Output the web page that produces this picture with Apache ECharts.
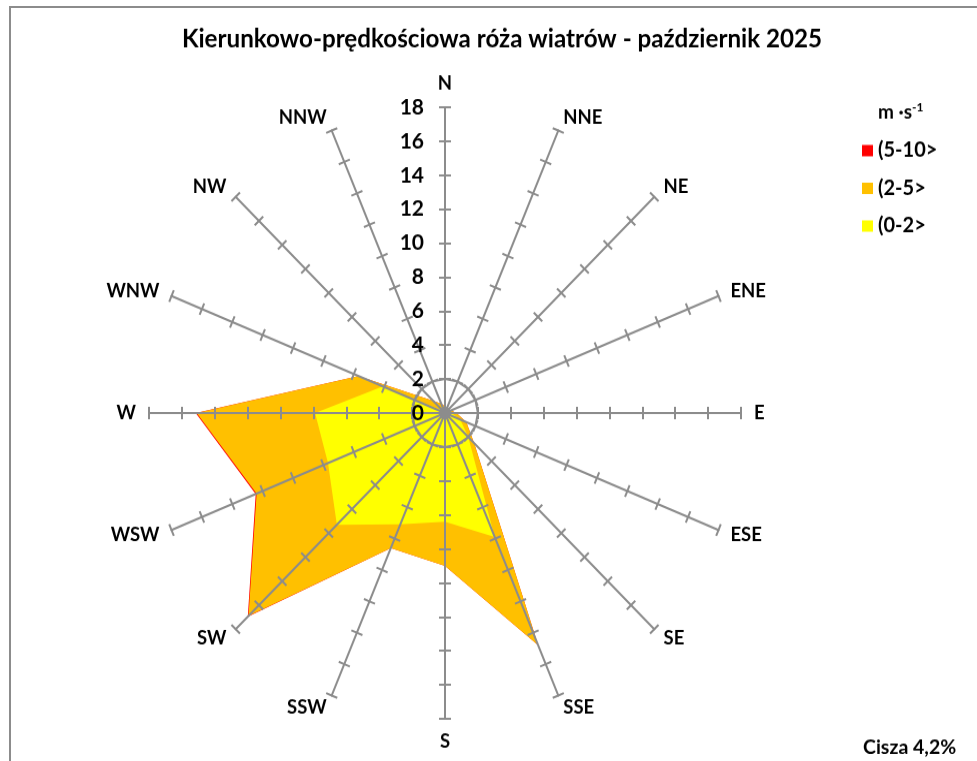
<!DOCTYPE html>
<html>
<head>
<meta charset="utf-8">
<script src="https://cdn.jsdelivr.net/npm/echarts@6/dist/echarts.min.js"></script>
<style>
  html, body { margin: 0; padding: 0; background: #fff; overflow: hidden; }
  #frame { position: absolute; left: 9px; top: 6px; width: 1000px; height: 800px; border: 2px solid #8c8c8c; box-sizing: border-box; }
  #chart { position: absolute; left: 0; top: 0; width: 977px; height: 761px; transform-origin: 0 413px; transform: scaleY(1.033); }
</style>
</head>
<body>
<div id="frame"></div>
<div id="chart"></div>
<script>
// Wind directions (clockwise from N)
const directions = ['N', 'NNE', 'NE', 'ENE', 'E', 'ESE', 'SE', 'SSE', 'S', 'SSW', 'SW', 'WSW', 'W', 'WNW', 'NW', 'NNW'];
// Speed classes (legend labels)
const classNames = ['(5-10>', '(2-5>', '(0-2>'];
// Cumulative frequency [%] per direction (same order as directions), as plotted
const cum0to2  = [0.1, 0.1, 0.1, 0.2, 0.4, 1.0, 2.0, 7.9, 6.4, 7.1, 9.3, 7.7, 7.9, 4.1, 0.2, 0.1];
const cum2to5  = [0.4, 0.3, 0.3, 0.4, 0.7, 1.4, 2.5, 14.8, 9.0, 8.6, 16.9, 12.4, 15.1, 5.7, 1.0, 0.6];
const cum5to10 = [0.4, 0.3, 0.3, 0.4, 0.7, 1.4, 2.5, 14.8, 9.0, 8.6, 16.96, 12.46, 15.16, 5.7, 1.0, 0.6];
const classColors = ['#FF0000', '#FFC000', '#FFFF00'];
const axisMax = 18, axisStep = 2;
const calmText = 'Cisza 4,2%';
const unitText = 'm ·s{sup|-1}';
const titleText = 'Kierunkowo-prędkościowa róża wiatrów - październik 2025';

const FONT = 'Lato';
// ECharts radar runs counter-clockwise: reorder so directions appear clockwise
const order = [0];
for (let i = directions.length - 1; i >= 1; i--) order.push(i);
const reorder = arr => order.map(i => arr[i]);

const indicators = order.map((i, k) => {
  const o = { name: directions[i], max: axisMax, min: 0 };
  if (k === 0) o.axisLabel = { show: true };
  return o;
});
const indicators2 = order.map(i => ({ name: directions[i], max: axisMax, min: 0 }));
const ringColors = [];
for (let i = 0; i <= axisMax / axisStep; i++) ringColors.push(i === 1 ? '#8c8c8c' : 'rgba(0,0,0,0)');

const center = [445, 413];
const radius = 296;
const axisLineStyle = { color: '#8c8c8c', width: 2 };

const chart = echarts.init(document.getElementById('chart'), null, { renderer: 'canvas' });
chart.setOption({
  animation: false,
  backgroundColor: 'transparent',
  title: [
    { text: titleText, left: 497, top: 34, textAlign: 'center',
      textStyle: { fontFamily: FONT, fontWeight: 'bold', fontSize: 24.2, color: '#000' } },
    { text: unitText, left: 873, top: 106,
      textStyle: { fontFamily: FONT, fontWeight: 'bold', fontSize: 19, color: '#000',
        rich: { sup: { fontFamily: FONT, fontWeight: 'bold', fontSize: 12, verticalAlign: 'top', padding: [0, 0, 9, 0], color: '#000' } } } },
    { text: calmText, left: 858, top: 722,
      textStyle: { fontFamily: FONT, fontWeight: 'bold', fontSize: 19.5, color: '#000' } }
  ],
  legend: {
    data: classNames,
    orient: 'vertical',
    left: 857, top: 144,
    itemWidth: 11, itemHeight: 11, itemGap: 16.5,
    icon: 'rect',
    textStyle: { fontFamily: FONT, fontWeight: 'bold', fontSize: 20, color: '#000' }
  },
  radar: [
    {
      z: 3,
      center: center, radius: radius, startAngle: 90, shape: 'polygon',
      splitNumber: axisMax / axisStep,
      indicator: indicators,
      axisName: { fontFamily: FONT, fontWeight: 'bold', fontSize: 18.5, color: '#000' },
      nameGap: 13,
      axisLine: { show: true, lineStyle: axisLineStyle },
      axisTick: { show: true, length: 6, lineStyle: axisLineStyle },
      axisLabel: { show: false, fontFamily: FONT, fontWeight: 'bold', fontSize: 21, color: '#000', margin: 21 },
      splitLine: { show: true, lineStyle: { color: ringColors, width: 2 } },
      splitArea: { show: false }
    },
    {
      z: 3,
      center: center, radius: radius, startAngle: 90, shape: 'polygon',
      splitNumber: axisMax / axisStep,
      indicator: indicators2,
      axisName: { show: false },
      axisLine: { show: false },
      axisTick: { show: true, length: -6, lineStyle: axisLineStyle },
      axisLabel: { show: false },
      splitLine: { show: false },
      splitArea: { show: false }
    }
  ],
  series: [{
    type: 'radar',
    radarIndex: 0,
    z: 2,
    symbol: 'none',
    data: [
      { name: classNames[0], value: reorder(cum5to10), itemStyle: { color: classColors[0] }, lineStyle: { width: 0 }, areaStyle: { color: classColors[0], opacity: 1 } },
      { name: classNames[1], value: reorder(cum2to5),  itemStyle: { color: classColors[1] }, lineStyle: { width: 0 }, areaStyle: { color: classColors[1], opacity: 1 } },
      { name: classNames[2], value: reorder(cum0to2),  itemStyle: { color: classColors[2] }, lineStyle: { width: 0 }, areaStyle: { color: classColors[2], opacity: 1 } }
    ]
  }]
});
</script>
</body>
</html>
